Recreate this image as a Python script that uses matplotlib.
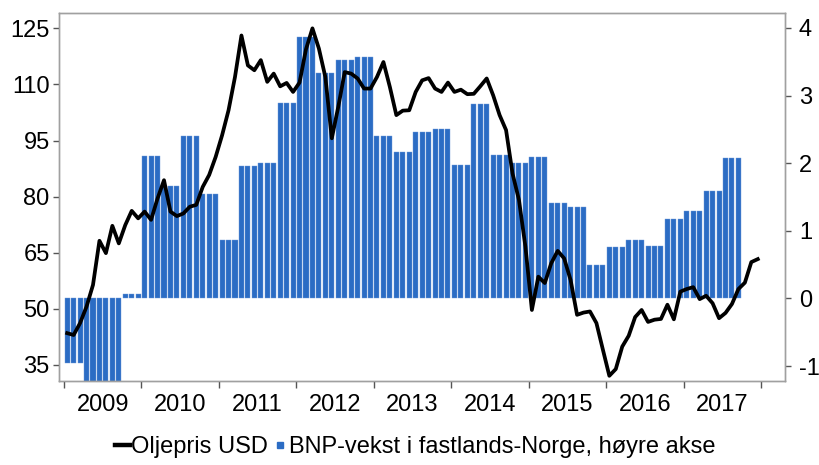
import numpy as np
import matplotlib.pyplot as plt
from matplotlib.lines import Line2D

plt.rcParams['font.family'] = ['Liberation Sans', 'DejaVu Sans']
plt.rcParams['axes.unicode_minus'] = False

# Oljepris USD, monthly average, Jan 2009 - Dec 2017 (left axis)
oil_2009 = [43.5, 43.0, 46.2, 50.6, 56.4, 68.2, 64.9, 72.2, 67.5, 72.4, 76.2, 74.2]
oil_2010 = [76.0, 73.8, 79.5, 84.4, 76.0, 74.8, 75.5, 77.3, 77.8, 82.6, 85.8, 90.6]
oil_2011 = [96.4, 103.1, 112.0, 123.1, 115.1, 113.8, 116.5, 110.7, 112.9, 109.5, 110.4, 108.0]
oil_2012 = [110.5, 119.4, 125.0, 119.6, 112.0, 95.6, 104.0, 113.3, 112.9, 111.6, 108.9, 108.9]
oil_2013 = [112.0, 116.0, 109.3, 101.8, 103.0, 103.1, 108.0, 111.1, 111.7, 108.9, 108.0, 110.5]
oil_2014 = [108.0, 108.6, 107.4, 107.5, 109.5, 111.6, 107.1, 101.8, 97.8, 86.2, 79.1, 66.6]
oil_2015 = [49.7, 58.6, 56.9, 62.2, 65.5, 63.5, 57.7, 48.4, 49.0, 49.3, 46.2, 39.1]
oil_2016 = [32.1, 33.9, 39.9, 42.8, 47.8, 49.7, 46.5, 47.1, 47.3, 51.1, 47.2, 54.6]
oil_2017 = [55.3, 55.8, 52.6, 53.5, 51.5, 47.5, 48.9, 51.3, 55.3, 57.0, 62.5, 63.3]
oil_price = (oil_2009 + oil_2010 + oil_2011 + oil_2012 + oil_2013
             + oil_2014 + oil_2015 + oil_2016 + oil_2017)

# BNP-vekst i fastlands-Norge, quarterly, 2009Q1 - 2017Q3 (right axis)
gdp_growth = [-0.95, -1.5, -1.5, 0.07,
              2.10, 1.67, 2.40, 1.54,
              0.87, 1.96, 2.01, 2.89,
              3.87, 3.33, 3.53, 3.57,
              2.40, 2.16, 2.46, 2.50,
              1.98, 2.87, 2.12, 2.01,
              2.09, 1.41, 1.35, 0.50,
              0.76, 0.86, 0.77, 1.18,
              1.30, 1.59, 2.07]

year_labels = [str(y) for y in range(2009, 2018)]
left_ticks = [35, 50, 65, 80, 95, 110, 125]
right_ticks = [-1, 0, 1, 2, 3, 4]

first_year = 2009
oil_x = first_year + (np.arange(len(oil_price)) + 0.5) / 12
gdp_monthly = np.repeat(gdp_growth, 3)  # each quarter drawn as three monthly bars
gdp_x = first_year + (np.arange(len(gdp_monthly)) + 0.5) / 12

fig = plt.figure(figsize=(8.19, 4.65), dpi=100)
ax = fig.add_axes([0.0726, 0.1806, 0.8859, 0.7914])
ax2 = ax.twinx()
# line axis on top of the bar axis
ax.set_zorder(ax2.get_zorder() + 1)
ax.patch.set_visible(False)

blue = '#2B6CC4'
ax2.bar(gdp_x, gdp_monthly, width=0.78 / 12, color=blue, edgecolor='#6F9BDA', linewidth=0.3)
ax.plot(oil_x, oil_price, color='black', linewidth=2.7)

ax.set_xlim(2008.942, 2018.31)
ax.set_ylim(30.7, 129.1)
ax2.set_ylim(-1.22, 4.22)

ax.set_yticks(left_ticks)
ax2.set_yticks(right_ticks)

ax.set_xticks(np.arange(2009, 2019))
ax.set_xticklabels([])
ax.set_xticks(np.arange(2009, 2018) + 0.5, minor=True)
ax.set_xticklabels(year_labels, minor=True)
ax.tick_params(axis='x', which='minor', length=0, pad=9, labelsize=17)
ax.tick_params(axis='x', which='major', length=5, width=1, color='#555555')
ax.tick_params(axis='y', length=4, width=1, color='#555555', labelsize=17, pad=3)
ax2.tick_params(axis='y', length=4, width=1, color='#555555', labelsize=17, pad=6)

for a in (ax, ax2):
    for s in a.spines.values():
        s.set_color('#A0A0A0')
        s.set_linewidth(1.0)

handles = [Line2D([], [], color='black', linewidth=3.2),
           Line2D([], [], color=blue, marker='s', linestyle='none', markersize=5)]
fig.legend(handles, ['Oljepris USD', 'BNP-vekst i fastlands-Norge, høyre akse'],
           loc='center', bbox_to_anchor=(0.507, 0.039), ncol=2, frameon=False,
           fontsize=17, handlelength=0.65, handletextpad=0.05, columnspacing=0.2,
           borderaxespad=0, borderpad=0)

fig.savefig('out.png', dpi=100)
